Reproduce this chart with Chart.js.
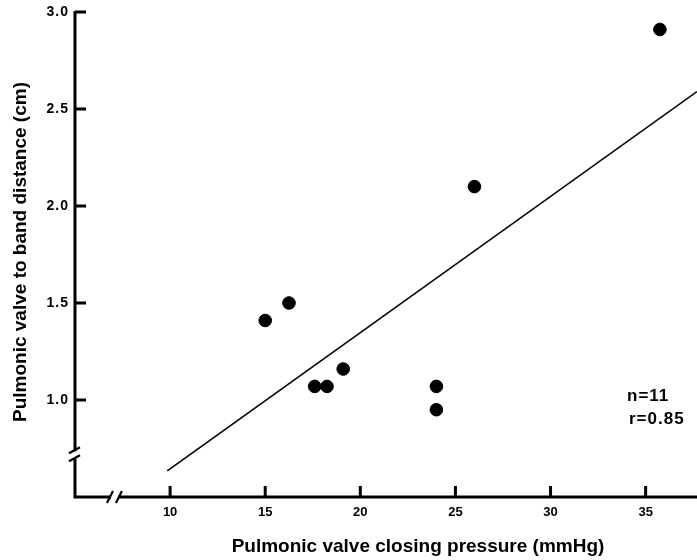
<!DOCTYPE html>
<html>
<head>
<meta charset="utf-8">
<script src="https://cdn.jsdelivr.net/npm/chart.js@4"></script>
<style>
  html, body { margin: 0; padding: 0; background: #fff; }
</style>
</head>
<body>
<canvas id="chart" width="697" height="560"></canvas>
<script>
// values
const pressure = [15.0, 16.25, 17.6, 18.25, 19.1, 24.0, 24.0, 26.0, 35.75];
const distance = [1.41, 1.50, 1.07, 1.07, 1.16, 1.07, 0.95, 2.10, 2.91];
const fitX = [9.85, 37.7];
const fitY = [0.635, 2.59];
const xTicks = [10, 15, 20, 25, 30, 35];
const yTicks = [1.0, 1.5, 2.0, 2.5, 3.0];
const yTickLabels = ['1.0', '1.5', '2.0', '2.5', '3.0'];
const xBreak = 7.1;
const yBreak = 0.72;
const statText = ['n=11', 'r=0.85'];
const xTitle = 'Pulmonic valve closing pressure (mmHg)';
const yTitle = 'Pulmonic valve to band distance (cm)';

const FONT = '"Liberation Sans", Arial, Helvetica, sans-serif';

const axesPlugin = {
    id: 'axes',
    afterDraw(chart) {
        const ctx = chart.ctx;
        const a = chart.chartArea;
        const x = chart.scales.x;
        const y = chart.scales.y;
        ctx.save();
        ctx.strokeStyle = '#000';
        ctx.fillStyle = '#000';
        ctx.lineWidth = 3;
        ctx.lineCap = 'butt';

        const yb = y.getPixelForValue(yBreak);
        const xb = x.getPixelForValue(xBreak);

        ctx.beginPath();
        ctx.moveTo(a.left, a.top - 1);
        ctx.lineTo(a.left, yb - 3);
        ctx.moveTo(a.left, yb + 4);
        ctx.lineTo(a.left, a.bottom);
        ctx.lineTo(xb - 4, a.bottom);
        ctx.moveTo(xb + 3, a.bottom);
        ctx.lineTo(a.right, a.bottom);
        ctx.stroke();

        // ticks point inward
        ctx.beginPath();
        yTicks.forEach(v => {
            const p = y.getPixelForValue(v);
            ctx.moveTo(a.left, p);
            ctx.lineTo(a.left + 11, p);
        });
        xTicks.forEach(v => {
            const p = x.getPixelForValue(v);
            ctx.moveTo(p, a.bottom);
            ctx.lineTo(p, a.bottom - 11);
        });
        ctx.stroke();

        // break marks
        ctx.lineWidth = 2.2;
        ctx.beginPath();
        ctx.moveTo(a.left - 6, yb - 1); ctx.lineTo(a.left + 5, yb - 7);
        ctx.moveTo(a.left - 6, yb + 7); ctx.lineTo(a.left + 5, yb + 1);
        ctx.moveTo(xb - 8, a.bottom + 6); ctx.lineTo(xb - 2, a.bottom - 6);
        ctx.moveTo(xb + 1, a.bottom + 6); ctx.lineTo(xb + 7, a.bottom - 6);
        ctx.stroke();

        // tick labels
        ctx.font = 'bold 14px ' + FONT;
        ctx.letterSpacing = '1px';
        ctx.textAlign = 'right';
        ctx.textBaseline = 'middle';
        yTicks.forEach((v, i) => {
            ctx.fillText(yTickLabels[i], a.left - 6, y.getPixelForValue(v));
        });
        ctx.letterSpacing = '0px';
        ctx.font = 'bold 13px ' + FONT;
        ctx.textAlign = 'center';
        ctx.textBaseline = 'top';
        xTicks.forEach(v => {
            ctx.fillText(String(v), x.getPixelForValue(v), a.bottom + 9);
        });

        // axis titles
        ctx.font = 'bold 19px ' + FONT;
        ctx.textBaseline = 'middle';
        ctx.fillText(xTitle, 418, 547);
        ctx.save();
        ctx.translate(21, 252);
        ctx.rotate(-Math.PI / 2);
        ctx.fillText(yTitle, 0, 0);
        ctx.restore();

        // n and r
        ctx.font = 'bold 17px ' + FONT;
        ctx.letterSpacing = '1px';
        ctx.textAlign = 'left';
        ctx.fillText(statText[0], 627, 396);
        ctx.fillText(statText[1], 629, 419);
        ctx.restore();
    }
};

new Chart(document.getElementById('chart'), {
    type: 'scatter',
    data: {
        datasets: [{
            label: 'Patients',
            data: pressure.map((p, i) => ({ x: p, y: distance[i] })),
            backgroundColor: '#000',
            borderColor: '#000',
            pointRadius: 6.3,
            pointHoverRadius: 6.3
        }, {
            type: 'line',
            label: 'Regression',
            data: fitX.map((p, i) => ({ x: p, y: fitY[i] })),
            borderColor: '#000',
            borderWidth: 1.6,
            pointRadius: 0,
            fill: false
        }]
    },
    options: {
        responsive: false,
        animation: false,
        devicePixelRatio: 1,
        layout: { autoPadding: false, padding: { left: 75, top: 12, right: 0, bottom: 63 } },
        plugins: {
            legend: { display: false },
            tooltip: { enabled: false }
        },
        scales: {
            x: { type: 'linear', display: false, min: 5, max: 37.7 },
            y: { type: 'linear', display: false, min: 0.5, max: 3.0 }
        }
    },
    plugins: [axesPlugin]
});
</script>
</body>
</html>
